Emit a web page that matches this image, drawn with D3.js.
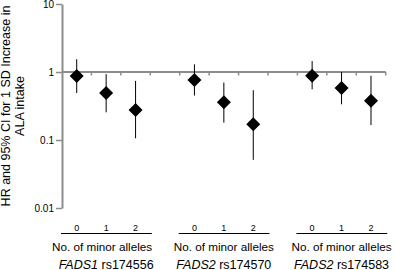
<!DOCTYPE html>
<html>
<head>
<meta charset="utf-8">
<script src="https://cdn.jsdelivr.net/npm/d3@7"></script>
<style>
  html, body { margin: 0; padding: 0; background: #fff; }
  svg { display: block; font-family: "Liberation Sans", Arial, sans-serif; }
</style>
</head>
<body>
<svg id="chart" width="395" height="270"></svg>
<script>
// ---- data ----
const genes = ["FADS1", "FADS2", "FADS2"];
const snps = ["rs174556", "rs174570", "rs174583"];
const alleles = ["0", "1", "2"];
const hr    = [[0.87, 0.49, 0.276], [0.76, 0.358, 0.17], [0.88, 0.58, 0.378]];
const lower = [[0.49, 0.255, 0.106], [0.45, 0.18, 0.051], [0.556, 0.335, 0.166]];
const upper = [[1.54, 0.93, 0.74], [1.30, 0.70, 0.54], [1.45, 1.0, 0.88]];
const yTicks = [0.01, 0.1, 1, 10];
const yTickLabels = ["0.01", "0.1", "1", "10"];
const xTitle = "No. of minor alleles";
const yTitle = ["HR and 95% CI for 1 SD Increase in", "ALA intake"];

// ---- layout ----
const svg = d3.select("#chart");
const mLeft = 62, mRight = 385.7, mTop = 4, mBottom = 208;

const slots = [];
genes.forEach((g, gi) => {
  alleles.forEach(a => slots.push(gi + "-" + a));
  if (gi < genes.length - 1) slots.push("gap" + gi);
});
const x = d3.scaleBand().domain(slots).range([mLeft, mRight]).padding(0);
const y = d3.scaleLog().domain([0.01, 10]).range([mBottom, mTop]);

const points = [];
genes.forEach((g, gi) => alleles.forEach((a, ai) => points.push({
  key: gi + "-" + a, hr: hr[gi][ai], lo: lower[gi][ai], hi: upper[gi][ai]
})));

// y axis
const yAxis = d3.axisLeft(y).tickValues(yTicks)
  .tickFormat((d, i) => yTickLabels[i]).tickSizeInner(6).tickSizeOuter(0);
const ya = svg.append("g").attr("transform", `translate(${mLeft},0)`).call(yAxis);
ya.select(".domain").attr("stroke", "#8c8c8c").attr("stroke-width", 2);
ya.selectAll(".tick line").attr("stroke", "#8c8c8c").attr("stroke-width", 1.5);
ya.selectAll(".tick text").attr("font-size", 10).attr("fill", "#000")
  .attr("font-family", "Liberation Sans, Arial, sans-serif").attr("x", -8);

// reference line at HR = 1 with band ticks
svg.append("line").attr("x1", mLeft).attr("x2", mRight)
  .attr("y1", y(1)).attr("y2", y(1))
  .attr("stroke", "#8c8c8c").attr("stroke-width", 2);
const bounds = slots.map(s => x(s)).concat([mRight]).slice(1);
svg.append("g").selectAll("line").data(bounds).join("line")
  .attr("x1", d => d).attr("x2", d => d)
  .attr("y1", y(1)).attr("y2", y(1) + 3.5)
  .attr("stroke", "#8c8c8c").attr("stroke-width", 1.5);

// error bars
svg.append("g").selectAll("line").data(points).join("line")
  .attr("x1", d => x(d.key) + x.bandwidth() / 2)
  .attr("x2", d => x(d.key) + x.bandwidth() / 2)
  .attr("y1", d => y(d.lo)).attr("y2", d => y(d.hi))
  .attr("stroke", "#000").attr("stroke-width", 1);

// diamonds
const s = 7;
svg.append("g").selectAll("path").data(points).join("path")
  .attr("transform", d => `translate(${x(d.key) + x.bandwidth() / 2},${y(d.hr)})`)
  .attr("d", `M0,${-s}L${s},0L0,${s}L${-s},0Z`)
  .attr("fill", "#000");

// group x-axes
genes.forEach((g, gi) => {
  const first = x(gi + "-" + alleles[0]);
  const last = x(gi + "-" + alleles[alleles.length - 1]) + x.bandwidth();
  const mid = x(gi + "-" + alleles[1]) + x.bandwidth() / 2;
  const gx = svg.append("g");
  gx.append("line").attr("x1", first - 1).attr("x2", last + 1.5)
    .attr("y1", 233.5).attr("y2", 233.5).attr("stroke", "#000").attr("stroke-width", 1);
  gx.selectAll("text.tl").data(alleles).join("text").attr("class", "tl")
    .attr("x", a => x(gi + "-" + a) + x.bandwidth() / 2)
    .attr("y", 231).attr("text-anchor", "middle")
    .attr("font-size", 9).text(a => a);
  gx.append("text").attr("x", mid - (gi === 0 ? 4 : 0)).attr("y", 250.5)
    .attr("text-anchor", "middle").attr("font-size", 11.7).text(xTitle);
  const t = gx.append("text").attr("x", mid).attr("y", 268.5)
    .attr("text-anchor", "middle").attr("font-size", 12.5);
  t.append("tspan").attr("font-style", "italic").text(g);
  t.append("tspan").text(" " + snps[gi]);
});

// y title
const yt = svg.append("text")
  .attr("transform", `translate(10,106) rotate(-90)`)
  .attr("text-anchor", "middle").attr("font-size", 12.5);
yt.append("tspan").attr("x", 0).attr("dy", 0).text(yTitle[0]);
yt.append("tspan").attr("x", 0).attr("dy", 14).text(yTitle[1]);
</script>
</body>
</html>
